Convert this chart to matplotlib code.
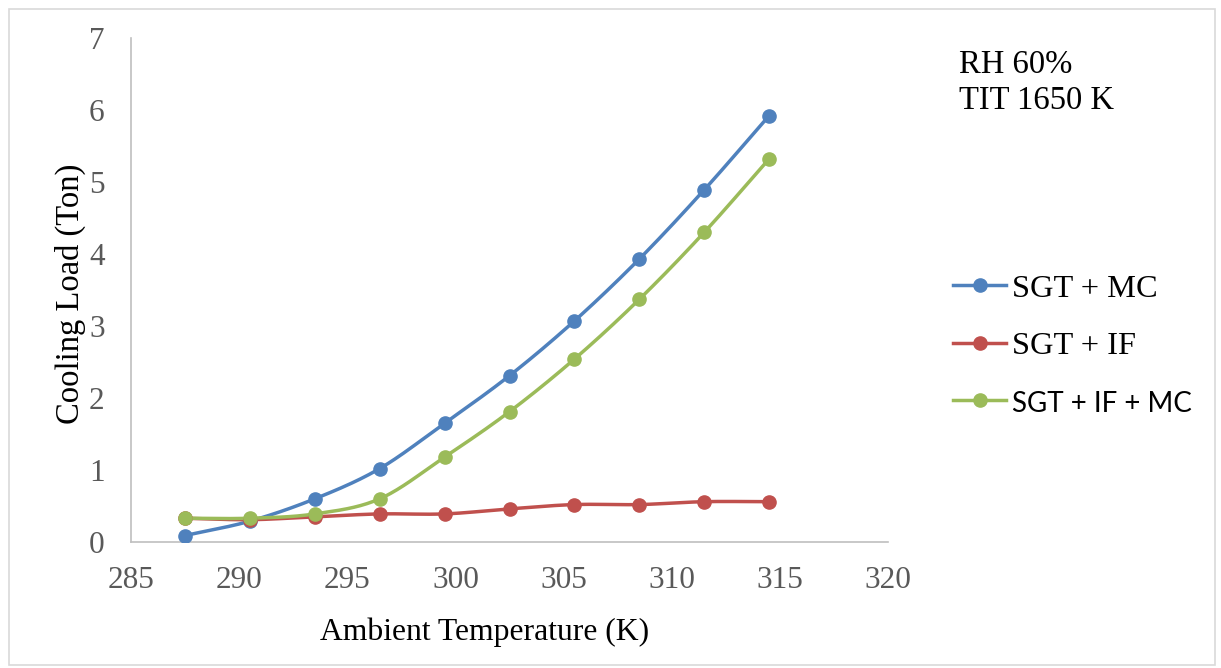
import numpy as np
import matplotlib
matplotlib.use("Agg")
import matplotlib.pyplot as plt
from matplotlib.lines import Line2D
from matplotlib.patches import Rectangle

# Ambient temperature (K) and cooling load (Ton) for each configuration
ambient_temp = [287.5, 290.5, 293.5, 296.5, 299.5, 302.5, 305.5, 308.5, 311.5, 314.5]
sgt_mc = [0.09, 0.29, 0.60, 1.02, 1.65, 2.31, 3.07, 3.93, 4.89, 5.92]
sgt_if = [0.33, 0.31, 0.35, 0.39, 0.39, 0.46, 0.52, 0.52, 0.56, 0.56]
sgt_if_mc = [0.33, 0.33, 0.39, 0.60, 1.18, 1.81, 2.54, 3.37, 4.30, 5.32]

series_labels = ["SGT + MC", "SGT + IF", "SGT + IF + MC"]
series_colors = ["#4F81BD", "#C0504D", "#9BBB59"]
x_ticks = [285, 290, 295, 300, 305, 310, 315, 320]
y_ticks = [0, 1, 2, 3, 4, 5, 6, 7]


def smooth_curve(x, y, n=30):
    """Catmull-Rom spline through the points (spreadsheet-style smoothed line)."""
    x = np.asarray(x, float)
    y = np.asarray(y, float)
    px = np.concatenate([[2 * x[0] - x[1]], x, [2 * x[-1] - x[-2]]])
    py = np.concatenate([[2 * y[0] - y[1]], y, [2 * y[-1] - y[-2]]])
    xs, ys = [], []
    t = np.linspace(0, 1, n, endpoint=False)
    for i in range(1, len(px) - 2):
        for arr, out in ((px, xs), (py, ys)):
            p0, p1, p2, p3 = arr[i - 1], arr[i], arr[i + 1], arr[i + 2]
            c = 0.5 * ((2 * p1) + (-p0 + p2) * t
                       + (2 * p0 - 5 * p1 + 4 * p2 - p3) * t ** 2
                       + (-p0 + 3 * p1 - 3 * p2 + p3) * t ** 3)
            out.extend(c)
    xs.append(x[-1])
    ys.append(y[-1])
    return np.array(xs), np.array(ys)


W, H = 1221, 668
fig = plt.figure(figsize=(W / 100, H / 100), dpi=100)
fig.patch.set_facecolor("white")
fig.patches.append(Rectangle((9 / W, 3 / H), (1215 - 9) / W, (662 - 6) / H,
                             transform=fig.transFigure, fill=False,
                             edgecolor="#D9D9D9", linewidth=1.2))

ax = fig.add_axes([131 / W, 1 - 542 / H, (888 - 131) / W, (542 - 38) / H])

serif = "Liberation Serif"
for vals, color, label in zip([sgt_mc, sgt_if, sgt_if_mc], series_colors, series_labels):
    sx, sy = smooth_curve(ambient_temp, vals)
    ax.plot(sx, sy, color=color, lw=2.5, solid_capstyle="round", zorder=2)
    ax.plot(ambient_temp, vals, linestyle="none", marker="o", ms=9.5,
            color=color, zorder=3)

ax.set_xlim(285, 320)
ax.set_ylim(0, 7)
ax.set_xticks(x_ticks)
ax.set_yticks(y_ticks)
ax.tick_params(length=0, labelsize=22.5, labelcolor="#595959")
ax.tick_params(axis="x", pad=17)
ax.tick_params(axis="y", pad=19)
for lab in ax.get_xticklabels() + ax.get_yticklabels():
    lab.set_fontfamily(serif)

for side in ("top", "right"):
    ax.spines[side].set_visible(False)
for side in ("left", "bottom"):
    ax.spines[side].set_color("#BFBFBF")
    ax.spines[side].set_linewidth(1.2)

# Axis titles
fig.text(485 / W, 1 - 640 / H, "Ambient Temperature (K)", fontsize=22.8,
         family=serif, color="black", ha="center", va="baseline")
fig.text(79 / W, 1 - 294 / H, "Cooling Load (Ton)", fontsize=23.5,
         family=serif, color="black", ha="center", va="baseline",
         rotation=90, rotation_mode="anchor")

fig.text(959 / W, 1 - 73 / H, "RH 60%", fontsize=23.5, family=serif,
         va="baseline", ha="left")
fig.text(959 / W, 1 - 109 / H, "TIT 1650 K", fontsize=23.5, family=serif,
         va="baseline", ha="left")

handles = [Line2D([], [], color=c, lw=2.5, marker="o", ms=9.5) for c in series_colors]
leg = fig.legend(handles, series_labels, loc="upper left",
                 bbox_to_anchor=(953 / W, 1 - 274 / H), frameon=False,
                 fontsize=23.3, handlelength=1.64, handletextpad=0.19,
                 labelspacing=0.86, borderpad=0, borderaxespad=0)
for txt, fam, size in zip(leg.get_texts(), [serif, serif, "Lato"], [23.3, 23.3, 20]):
    txt.set_fontfamily(fam)
    txt.set_fontsize(size)

fig.savefig("out.png", dpi=100)
